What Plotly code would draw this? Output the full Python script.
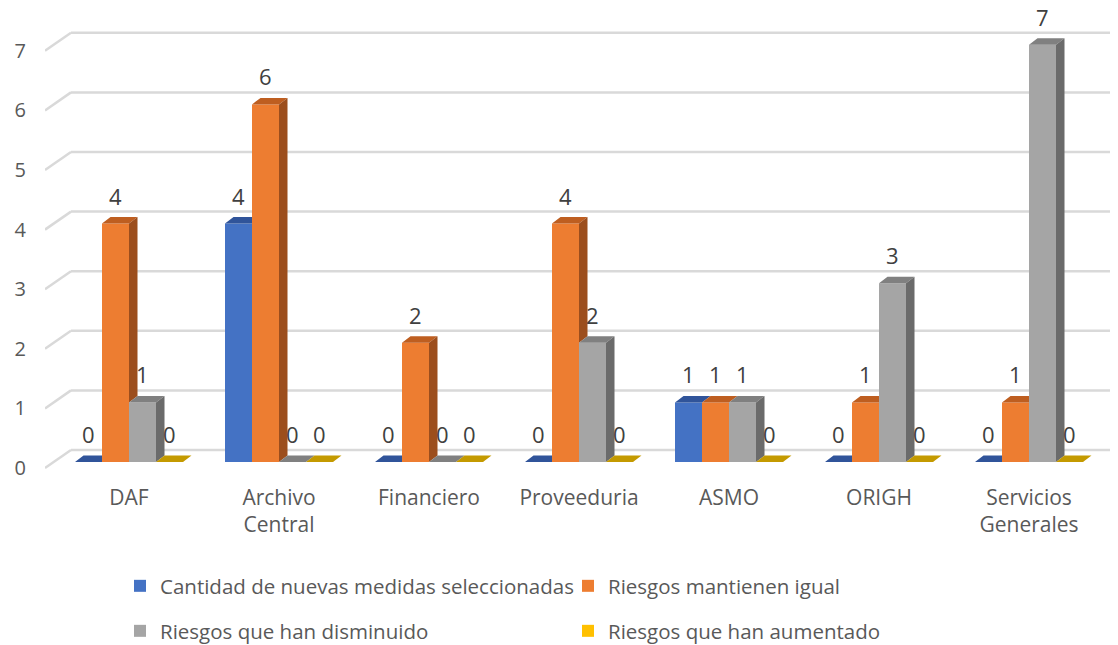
# Gráfico de barras 3D (estilo Excel) de riesgos por dependencia
import plotly.graph_objects as go

# ================================
# Datos
# ================================
categorias = ['DAF', 'Archivo<br>Central', 'Financiero', 'Proveeduria',
              'ASMO', 'ORIGH', 'Servicios<br>Generales']
nuevas_medidas = [0, 4, 0, 0, 1, 0, 0]
mantienen_igual = [4, 6, 2, 4, 1, 1, 1]
han_disminuido = [1, 0, 0, 2, 1, 3, 7]
han_aumentado = [0, 0, 0, 0, 0, 0, 0]
ticks_y = [0, 1, 2, 3, 4, 5, 6, 7]

series = [
    ('Cantidad de nuevas medidas seleccionadas', nuevas_medidas, '#4472C4', '#30549A', '#2B4B88'),
    ('Riesgos mantienen igual', mantienen_igual, '#ED7D31', '#BE5E20', '#9C4E1D'),
    ('Riesgos que han disminuido', han_disminuido, '#A5A5A5', '#808080', '#6B6B6B'),
    ('Riesgos que han aumentado', han_aumentado, '#FFC000', '#C49A00', '#A88400'),
]

# ================================
# Geometría (la página agrega 8 px de margen al body)
# ================================
ANCHO = 0.18
OFFSETS = [-0.36, -0.18, 0.0, 0.18]
PX_X = 150.0           # pixeles por categoría
PX_Y = 59.6            # pixeles por unidad
DX, DY = 8.5 / PX_X, 6.5 / PX_Y          # profundidad de las barras
FRENTE_X, FRENTE_Y = -8 / PX_X, -6 / PX_Y   # borde frontal de la grilla
FONDO_X, FONDO_Y = 17 / PX_X, 12 / PX_Y     # pared del fondo

X_MIN = -0.5 - 9 / PX_X
X_MAX = X_MIN + 1073 / PX_X
Y_MIN = -8 / PX_Y
Y_MAX = 454 / PX_Y

ALTO_FIG = 637
FUENTE = 'Open Sans'
GRIS_TXT = '#595959'

fig = go.Figure()

# grilla 3D
for t in ticks_y:
    fig.add_shape(type='line', xref='x', yref='y', layer='below',
                  x0=X_MIN, y0=t + FRENTE_Y, x1=-0.5 + FONDO_X, y1=t + FONDO_Y,
                  line=dict(color='#D9D9D9', width=2.5))
    fig.add_shape(type='line', xref='x', yref='y', layer='below',
                  x0=-0.5 + FONDO_X, y0=t + FONDO_Y, x1=X_MAX, y1=t + FONDO_Y,
                  line=dict(color='#D9D9D9', width=2.5))

# caras frontales
for i, (nombre, vals, c_frente, c_tope, c_lado) in enumerate(series):
    fig.add_trace(go.Bar(
        x=list(range(len(categorias))), y=vals, name=nombre,
        offset=OFFSETS[i], width=ANCHO,
        marker=dict(color=c_frente, line=dict(width=0)),
        legend='legend' if i < 2 else 'legend2',
        hoverinfo='skip',
    ))

# caras superiores y laterales
for i, (nombre, vals, c_frente, c_tope, c_lado) in enumerate(series):
    tx, ty, lx, ly = [], [], [], []
    for k, v in enumerate(vals):
        x0 = k + OFFSETS[i]
        x1 = x0 + ANCHO
        vecino = series[i + 1][1][k] if i < len(series) - 1 else None
        # tope
        if vecino is not None and vecino > v:
            tx += [x0, x0 + DX, x1, x1, x0, None]
        else:
            tx += [x0, x0 + DX, x1 + DX, x1, x0, None]
        ty += [v, v + DY, v + DY, v, v, None]
        # lateral
        base = 0 if vecino is None else vecino
        if v > base:
            lx += [x1, x1, x1 + DX, x1 + DX, x1, None]
            ly += [base, v, v + DY, base + DY, base, None]
        # etiqueta
        fig.add_annotation(x=x0 + ANCHO / 2, y=v, text=str(v), showarrow=False,
                           yshift=28, font=dict(family=FUENTE, size=22, color='#404040'))
    fig.add_trace(go.Scatter(x=tx, y=ty, mode='lines', fill='toself', fillcolor=c_tope,
                             line=dict(width=0), showlegend=False, hoverinfo='skip'))
    if lx:
        fig.add_trace(go.Scatter(x=lx, y=ly, mode='lines', fill='toself', fillcolor=c_lado,
                                 line=dict(width=0), showlegend=False, hoverinfo='skip'))

leyenda = dict(orientation='h', xanchor='left', yanchor='middle',
               xref='container', yref='container',
               entrywidth=403, entrywidthmode='pixels', itemwidth=30,
               font=dict(family=FUENTE, size=20.5, color=GRIS_TXT),
               bgcolor='rgba(0,0,0,0)')

fig.update_layout(
    width=1110, height=ALTO_FIG,
    margin=dict(l=37, r=0, t=0, b=175),
    paper_bgcolor='white', plot_bgcolor='white',
    barmode='overlay', showlegend=True,
    font=dict(family=FUENTE, color=GRIS_TXT),
    legend=dict(leyenda, x=112 / 1110, y=1 - 578 / ALTO_FIG),
    legend2=dict(leyenda, x=112 / 1110, y=1 - 623 / ALTO_FIG),
    xaxis=dict(range=[X_MIN, X_MAX], tickmode='array', automargin=False,
               tickvals=list(range(len(categorias))), ticktext=categorias,
               showgrid=False, zeroline=False, showline=False, ticks='',
               ticklabelstandoff=13,
               tickfont=dict(family=FUENTE, size=21, color=GRIS_TXT)),
    yaxis=dict(range=[Y_MIN, Y_MAX], tickmode='array', automargin=False,
               tickvals=[t + FRENTE_Y for t in ticks_y], ticktext=[str(t) for t in ticks_y],
               showgrid=False, zeroline=False, showline=False, ticks='',
               ticklabelstandoff=18,
               tickfont=dict(family=FUENTE, size=20, color=GRIS_TXT)),
)

fig.write_html('out.html')
